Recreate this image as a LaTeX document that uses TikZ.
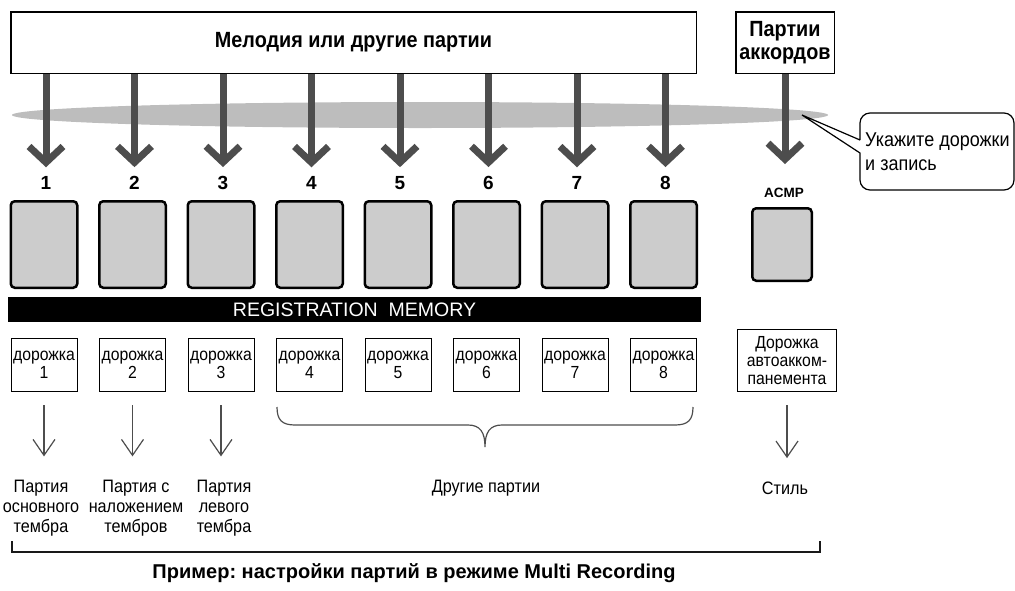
\documentclass[tikz,border=0pt]{standalone}
\usepackage{fontspec}
\setmainfont{Liberation Sans}
\newfontfamily\narrowsans{Liberation Sans}[FakeStretch=0.9]
\usetikzlibrary{positioning,arrows.meta,calc}
\definecolor{arrowgray}{HTML}{4D4D4D}
\definecolor{hazegray}{HTML}{BDBDBD}
\definecolor{padgray}{HTML}{CCCCCC}
\frenchspacing
\tikzset{
  partbox/.style={draw=black, line width=1.5pt, fill=white, align=center, inner sep=0pt,
    font=\narrowsans\bfseries\fontsize{22}{23}\selectfont},
  fatarrow/.style={draw=arrowgray, line width=7pt, -{Straight Barb[length=16pt,width=34pt]}},
  thinarrow/.style={draw=arrowgray, line width=1.2pt, -{Straight Barb[length=16pt,width=22pt]}},
  padbox/.style={draw=black, line width=2.5pt, fill=padgray, rounded corners=4pt,
    minimum width=66.5pt, minimum height=86.5pt},
  trackbox/.style={draw=black, line width=1pt, minimum width=66pt, minimum height=53pt,
    align=center, inner sep=1pt, font=\narrowsans\fontsize{17.5}{18}\selectfont},
  partlabel/.style={align=center, font=\narrowsans\fontsize{18}{20}\selectfont},
  tracknum/.style={font=\bfseries\fontsize{19}{19}\selectfont, inner sep=0pt},
}

\begin{document}
\begin{tikzpicture}[x=1pt, y=-1pt]
\useasboundingbox (0,0) rectangle (1015,590);

% sources
\fill[hazegray] (420,115) ellipse [x radius=408, y radius=13];
\node[partbox, minimum width=685.5pt, minimum height=61.5pt] (melody) at (353.5,42.5) {Мелодия или другие партии};
\node[partbox, minimum width=98.5pt, minimum height=61.5pt] (chords) at (785,42.5) {Партии\\аккордов};

% callout
\draw[line width=1.2pt, fill=white] (860,140) -- (802,115) -- (860,153)
  [rounded corners=10pt] -- (860,190) -- (1014,190) -- (1014,113) -- (860,113) [sharp corners] -- (860,140);
\node[anchor=west, align=left, inner sep=0pt, font=\narrowsans\fontsize{20}{24}\selectfont] (hint) at (865,152) {Укажите дорожки\\и запись};

% tracks
\foreach \i in {1,...,8}{
  \pgfmathsetmacro\cx{44+88.5*(\i-1)}
  \node[tracknum] (n\i) at (\cx+2,183) {\i};
  \node[padbox] (b\i) at (\cx,244.5) {};
  \node[trackbox] (t\i) at (\cx,365) {дорожка\\\i};
  \draw[fatarrow, shorten >=9pt] (melody.south -| n\i) -- (n\i.north);
}
\node[font=\bfseries\fontsize{13.5}{13.5}\selectfont, inner sep=0pt] (acmp) at (784,193) {ACMP};
\node[padbox, minimum width=59.5pt, minimum height=72.5pt] (bacmp) at (782,244.5) {};
\node[trackbox, minimum width=99pt, minimum height=62pt] (tacmp) at (787,360.5) {Дорожка\\автоакком-\\панемента};
\draw[fatarrow, shorten >=24pt] (chords.south) -- (acmp.north -| chords.south);

\node[fill=black, text=white, minimum width=693pt, minimum height=25pt, inner sep=0pt,
  font=\fontsize{19.5}{19.5}\selectfont] (regmem) at (354.5,309.5) {REGISTRATION\ \ MEMORY};

% parts
\node[partlabel] (p1) at (41,508) {Партия\\основного\\тембра};
\node[partlabel] (p2) at (136,508) {Партия с\\наложением\\тембров};
\node[partlabel] (p3) at (224,508) {Партия\\левого\\тембра};
\node[partlabel] (others) at (486,488) {Другие партии};
\node[partlabel] (style) at (785,488) {Стиль};
\foreach \a/\b in {t1/p1, t2/p2, t3/p3, tacmp/style}
  \draw[thinarrow, shorten <=13pt, shorten >=20pt] (\a.south) -- (\a.south |- \b.north);

\draw[arrowgray, line width=1.2pt] (277,407) .. controls (277,420) and (282,425) .. (295,425)
  -- (468,425) .. controls (480,425) and (485,432) .. (485,447)
  .. controls (485,432) and (490,425) .. (502,425) -- (675,425)
  .. controls (688,425) and (693,420) .. (693,407);

\draw[line width=2.5pt, black!90] (12,541) -- (12,552) -- (820,552) -- (820,541);
\node[font=\bfseries\fontsize{20}{20}\selectfont] (caption) at (414,573) {Пример: настройки партий в режиме Multi Recording};
\end{tikzpicture}
\end{document}
